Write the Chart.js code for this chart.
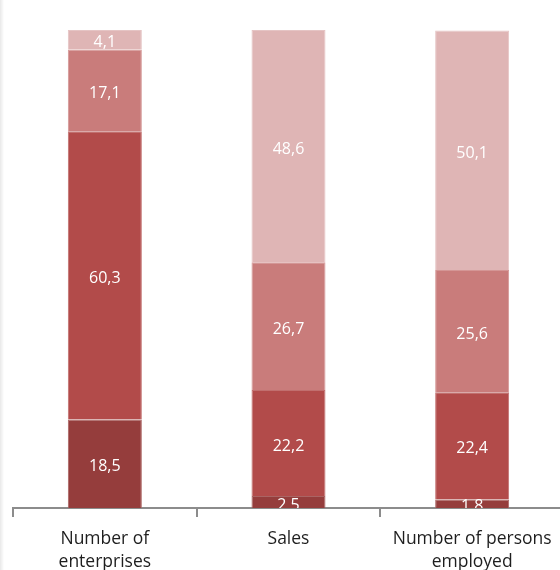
<!DOCTYPE html>
<html>
<head>
<meta charset="utf-8">
<script src="https://cdn.jsdelivr.net/npm/chart.js@4/dist/chart.umd.min.js"></script>
<style>
  html, body { margin: 0; padding: 0; background: #fff; overflow: hidden; }
  #wrap { position: relative; width: 560px; height: 570px; overflow: hidden; }
  #edge { position: absolute; left: 0; top: 0; width: 4px; height: 570px;
          background: linear-gradient(to right, rgba(0,0,0,0.09), rgba(0,0,0,0)); z-index: 2; }
  #c { position: absolute; left: 0; top: 0; }
</style>
</head>
<body>
<div id="wrap">
  <div id="edge"></div>
  <canvas id="c" width="570" height="570" style="width:570px;height:570px"></canvas>
</div>
<script>
const categories = [["Number of", "enterprises"], "Sales", ["Number of persons", "employed"]];
const seriesNames = ["Class 1", "Class 2", "Class 3", "Class 4"];
const series1 = [18.5, 2.5, 1.8];
const series2 = [60.3, 22.2, 22.4];
const series3 = [17.1, 26.7, 25.6];
const series4 = [4.1, 48.6, 50.1];
const seriesColors = ["#953d3c", "#b24b4a", "#c97c7b", "#dfb5b5"];

const allSeries = [series1, series2, series3, series4];

function lighten(hex, f) {
  const n = parseInt(hex.slice(1), 16);
  const r = (n >> 16) & 255, g = (n >> 8) & 255, b = n & 255;
  const m = c => Math.round(c + (255 - c) * f);
  return 'rgb(' + m(r) + ',' + m(g) + ',' + m(b) + ')';
}

const labelPlugin = {
  id: 'segLabels',
  afterDatasetsDraw(chart) {
    const ctx = chart.ctx;
    const area = chart.chartArea;
    ctx.save();
    ctx.beginPath();
    ctx.rect(area.left, area.top, area.right - area.left, area.bottom - area.top);
    ctx.clip();
    ctx.fillStyle = '#ffffff';
    ctx.font = '16px "Open Sans", sans-serif';
    ctx.textAlign = 'center';
    ctx.textBaseline = 'middle';
    chart.data.datasets.forEach((ds, di) => {
      const meta = chart.getDatasetMeta(di);
      meta.data.forEach((el, i) => {
        const v = ds.data[i];
        const y = (el.y + el.base) / 2;
        ctx.fillText(v.toFixed(1).replace('.', ','), el.x, y + 3);
      });
    });
    ctx.restore();
  }
};

new Chart(document.getElementById('c'), {
  type: 'bar',
  data: {
    labels: categories,
    datasets: allSeries.map((s, i) => ({
      label: seriesNames[i],
      data: s,
      backgroundColor: seriesColors[i],
      borderColor: lighten(seriesColors[i], 0.2),
      borderWidth: { top: 1, left: 1, right: 1, bottom: 0 },
      borderSkipped: false,
      categoryPercentage: 1,
      barPercentage: 0.403
    }))
  },
  options: {
    responsive: false,
    animation: false,
    layout: { padding: { left: 13, right: 6, top: 30, bottom: 0 } },
    plugins: { legend: { display: false }, tooltip: { enabled: false } },
    scales: {
      x: {
        stacked: true,
        offset: true,
        border: { display: true, color: '#8c8c8c', width: 2 },
        grid: { display: true, offset: true, drawOnChartArea: false, drawTicks: true, tickLength: 9, color: '#8c8c8c', lineWidth: 2 },
        ticks: { color: '#1e1e1e', font: { family: '"Open Sans", sans-serif', size: 17.5, lineHeight: 1.35 }, padding: 10, maxRotation: 0 },
        afterFit(scale) { scale.height = 62; }
      },
      y: {
        stacked: true,
        display: false,
        min: 0,
        max: 100
      }
    }
  },
  plugins: [labelPlugin]
});
</script>
</body>
</html>
